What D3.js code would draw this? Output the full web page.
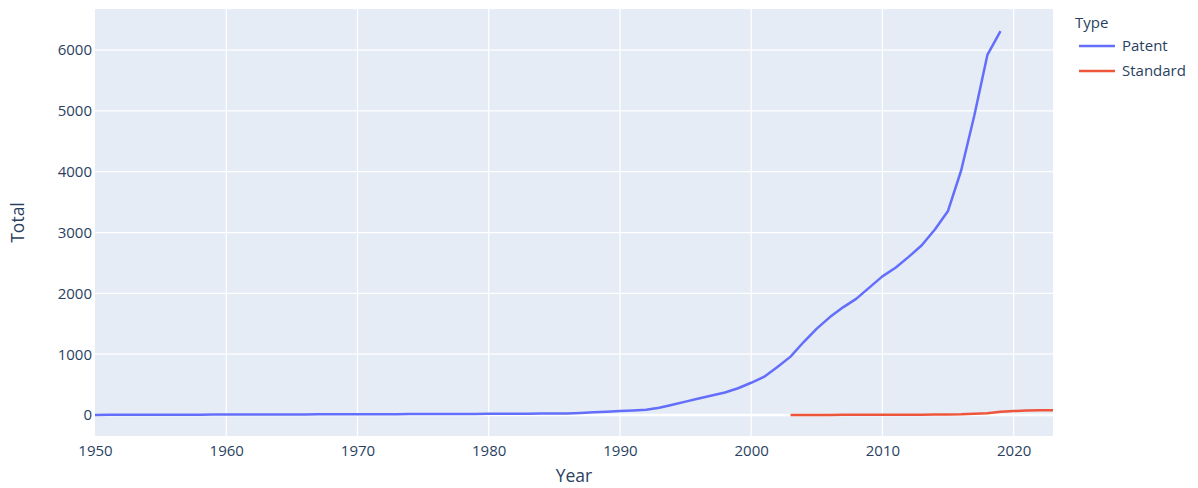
<!DOCTYPE html>
<html>
<head>
<meta charset="utf-8">
<script src="https://cdn.jsdelivr.net/npm/d3@7"></script>
<style>
  body { margin: 0; background: #fff; }
  text { font-family: "Open Sans", "Noto Sans", sans-serif; fill: #2a3f5f; }
</style>
</head>
<body>
<div id="main-chart"></div>
<script>
const width = 1198;
const height = 488;
const margin = { top: 9, bottom: 52, left: 95, right: 145 };

// patent totals per year (1950 - 2019)
const patentYears = d3.range(1950, 2020);
const patentValues = [
  2, 3, 3, 4, 4, 5, 5, 6, 6, 7,
  7, 8, 8, 9, 9, 10, 10, 11, 11, 12,
  12, 13, 13, 14, 15, 15, 16, 17, 17, 18,
  19, 20, 21, 22, 23, 24, 25, 35, 45, 55,
  65, 75, 85, 120, 170, 220, 270, 320, 370, 440,
  530, 630, 790, 960, 1200, 1420, 1610, 1770, 1910, 2095,
  2280, 2420, 2600, 2790, 3050, 3355, 4020, 4920, 5920, 6310
];

// standard totals per year (2003 - 2023)
const standardYears = d3.range(2003, 2024);
const standardValues = [
  1, 1, 2, 2, 3, 3, 4, 4, 5, 5,
  6, 7, 8, 12, 22, 28, 55, 65, 74, 77, 78
];

const seriesNames = ["Patent", "Standard"];
const seriesColors = ["#636efa", "#ef553b"];
const xTicks = [1950, 1960, 1970, 1980, 1990, 2000, 2010, 2020];
const yTicks = [0, 1000, 2000, 3000, 4000, 5000, 6000];
const xDomain = [1950, 2023];
const yDomain = [-345, 6675];

const series = [
  { name: seriesNames[0], color: seriesColors[0], values: patentYears.map((y, i) => ({ year: y, total: patentValues[i] })) },
  { name: seriesNames[1], color: seriesColors[1], values: standardYears.map((y, i) => ({ year: y, total: standardValues[i] })) }
];

const svg = d3
  .select("#main-chart")
  .append("svg")
  .attr("width", width)
  .attr("height", height);

const x = d3.scaleLinear().domain(xDomain).range([margin.left, width - margin.right]);
const y = d3.scaleLinear().domain(yDomain).range([height - margin.bottom, margin.top]);

svg
  .append("rect")
  .attr("x", x.range()[0])
  .attr("y", margin.top)
  .attr("width", x.range()[1] - x.range()[0])
  .attr("height", height - margin.bottom - margin.top)
  .attr("fill", "#e5ecf6");

// grid
svg
  .append("g")
  .selectAll("line")
  .data(xTicks.slice(1))
  .join("line")
  .attr("x1", (d) => x(d))
  .attr("x2", (d) => x(d))
  .attr("y1", margin.top)
  .attr("y2", height - margin.bottom)
  .attr("stroke", "#fff")
  .attr("stroke-width", 1.25);

svg
  .append("g")
  .selectAll("line")
  .data(yTicks)
  .join("line")
  .attr("x1", x.range()[0])
  .attr("x2", x.range()[1])
  .attr("y1", (d) => y(d))
  .attr("y2", (d) => y(d))
  .attr("stroke", "#fff")
  .attr("stroke-width", (d) => (d === 0 ? 2.5 : 1.25));

// lines
const line = d3
  .line()
  .x((d) => x(d.year))
  .y((d) => y(d.total));

svg
  .append("g")
  .selectAll("path")
  .data(series)
  .join("path")
  .attr("d", (d) => line(d.values))
  .attr("fill", "none")
  .attr("stroke", (d) => d.color)
  .attr("stroke-width", 2.5)
  .attr("stroke-linejoin", "round");

// axes
const xAxis = svg
  .append("g")
  .attr("transform", `translate(0, ${height - margin.bottom})`)
  .call(d3.axisBottom(x).tickValues(xTicks).tickFormat(d3.format("d")).tickSize(0).tickPadding(9));
xAxis.select(".domain").remove();
xAxis.selectAll("text").attr("font-size", "15px").style("fill", "#2a3f5f");

const yAxis = svg
  .append("g")
  .attr("transform", `translate(${margin.left}, 0)`)
  .call(d3.axisLeft(y).tickValues(yTicks).tickFormat(d3.format("d")).tickSize(0).tickPadding(3));
yAxis.select(".domain").remove();
yAxis.selectAll("text").attr("font-size", "15px").style("fill", "#2a3f5f");

svg
  .append("text")
  .attr("x", (x.range()[0] + x.range()[1]) / 2)
  .attr("y", 482)
  .attr("text-anchor", "middle")
  .attr("font-size", "17.5px")
  .text("Year");

svg
  .append("text")
  .attr("transform", `translate(24, ${(margin.top + height - margin.bottom) / 2}) rotate(-90)`)
  .attr("text-anchor", "middle")
  .attr("font-size", "17.5px")
  .text("Total");

// legend
const legend = svg.append("g").attr("transform", "translate(1075, 0)");
legend.append("text").attr("x", 0).attr("y", 28).attr("font-size", "15px").text("Type");
const items = legend
  .selectAll("g.item")
  .data(series)
  .join("g")
  .attr("class", "item")
  .attr("transform", (d, i) => `translate(0, ${46 + i * 25})`);
items
  .append("line")
  .attr("x1", 4)
  .attr("x2", 40)
  .attr("stroke", (d) => d.color)
  .attr("stroke-width", 2.5);
items
  .append("text")
  .attr("x", 47)
  .attr("dy", "0.35em")
  .attr("font-size", "15px")
  .text((d) => d.name);
</script>
</body>
</html>
